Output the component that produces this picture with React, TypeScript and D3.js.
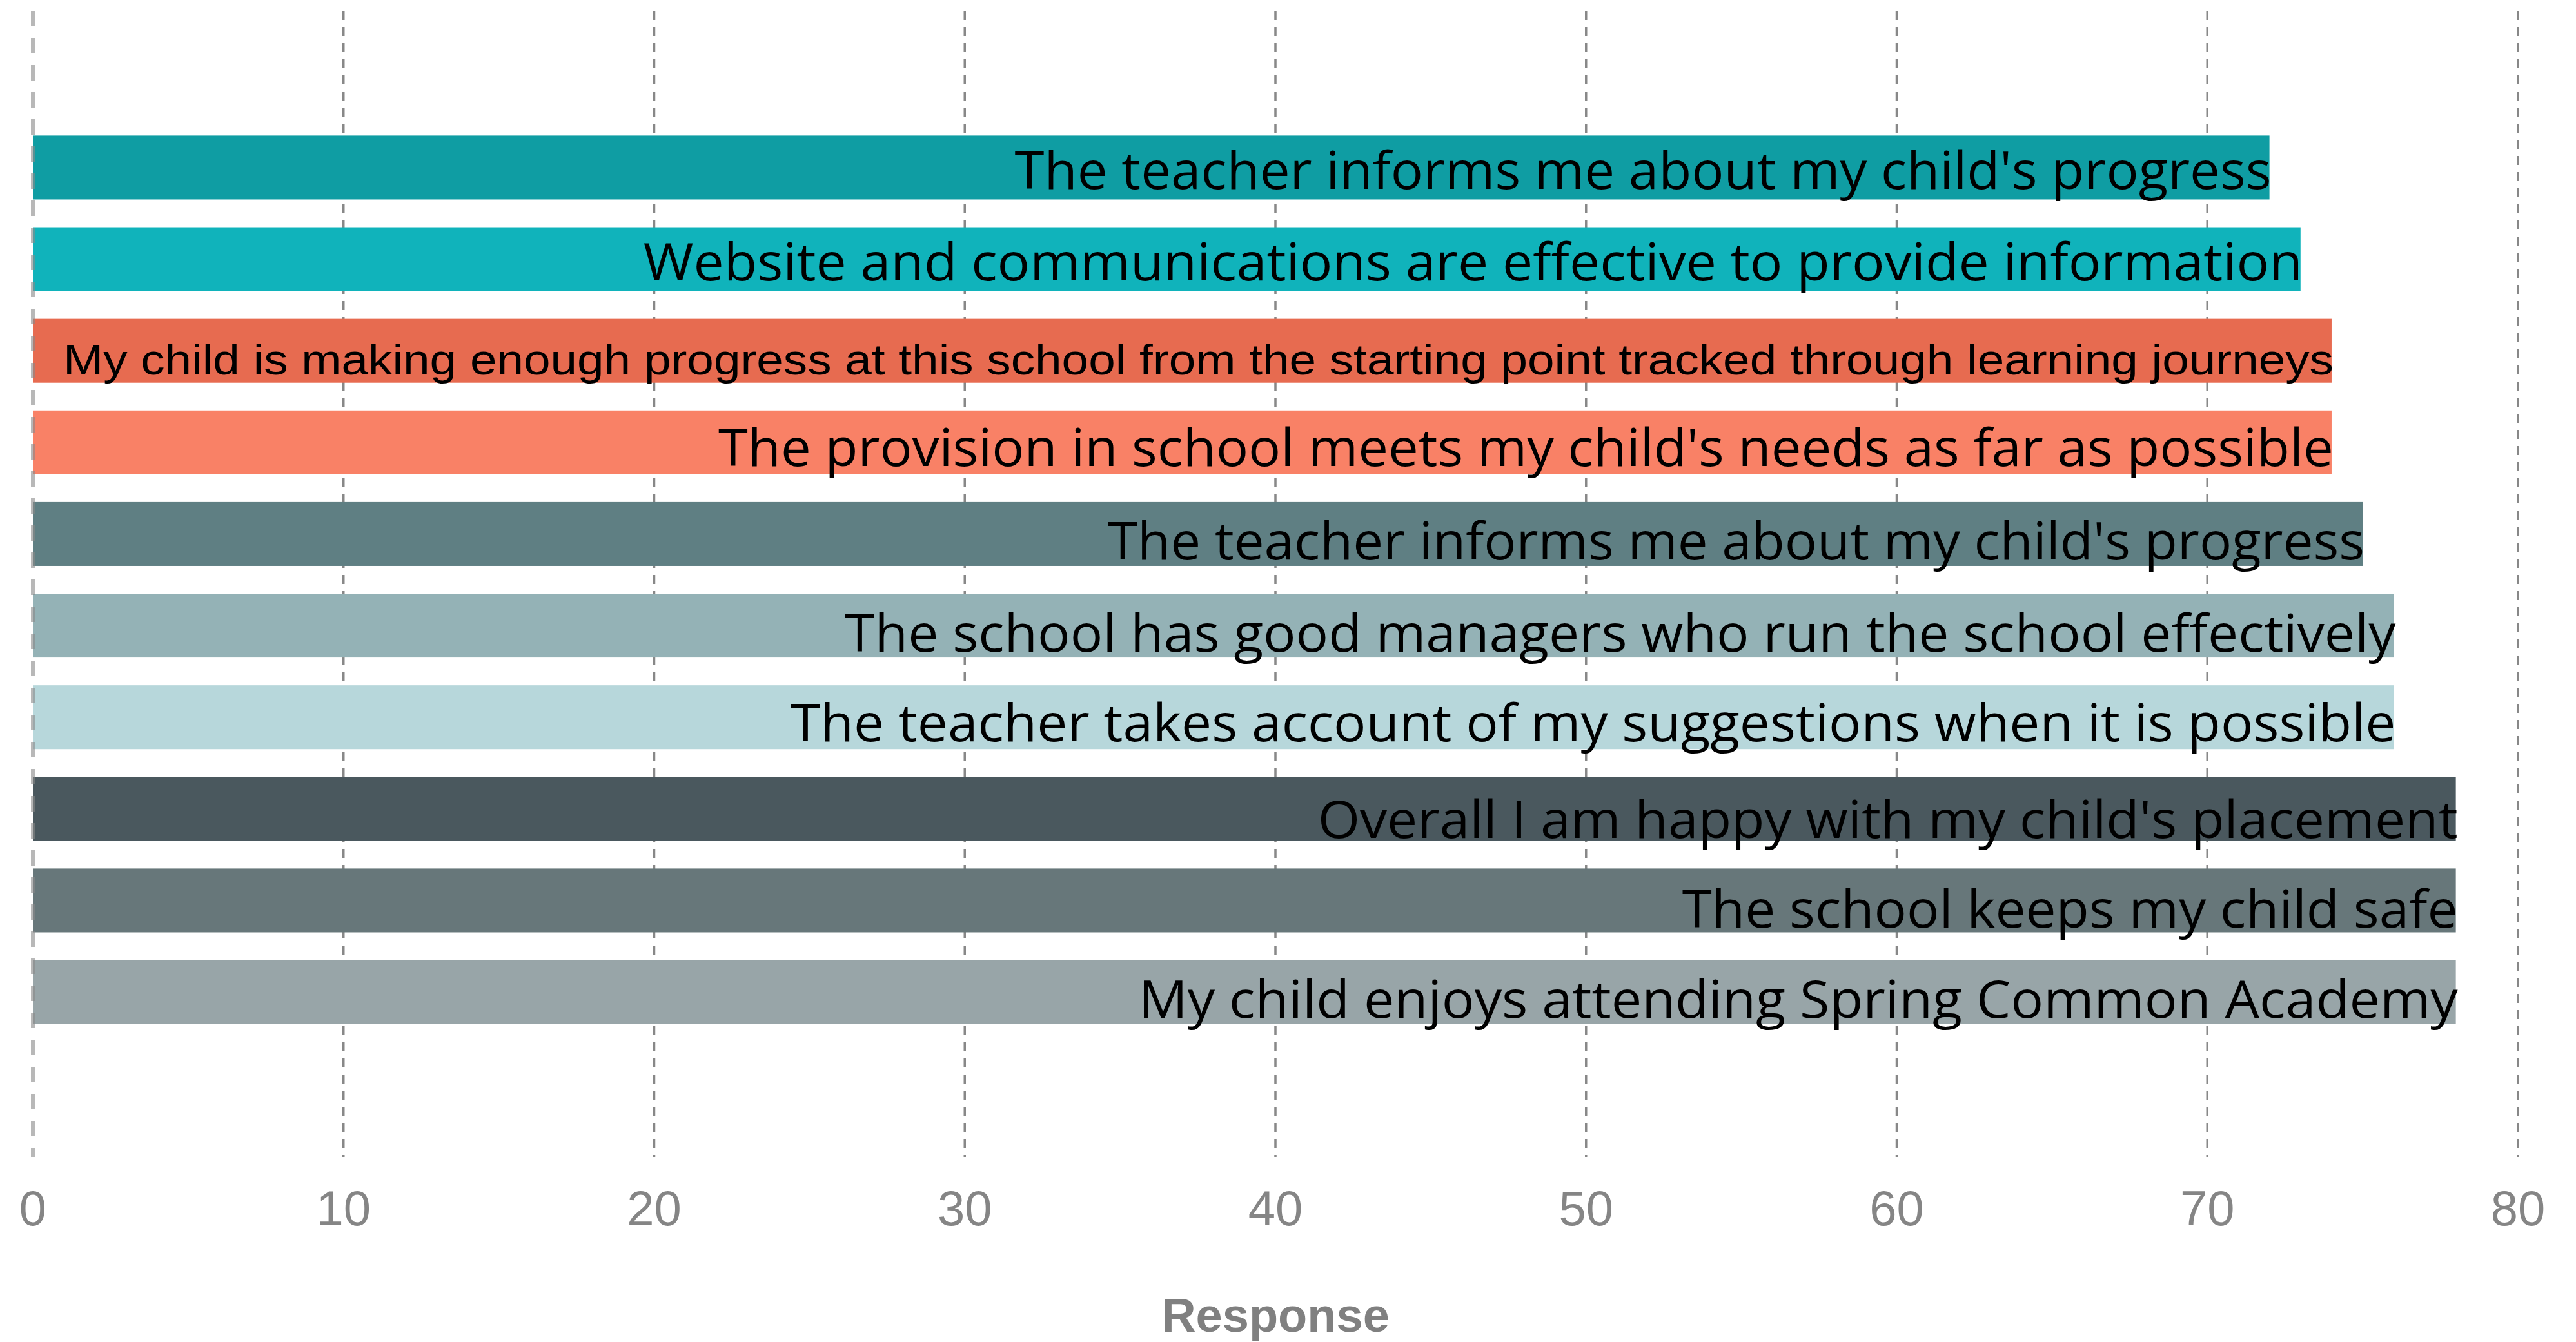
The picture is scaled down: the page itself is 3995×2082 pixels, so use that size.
import React from "react";
import * as d3 from "d3";

const W = 3995;
const H = 2082;

const categories = [
  "The teacher informs me about my child's progress",
  "Website and communications are effective to provide information",
  "My child is making enough progress at this school from the starting point tracked through learning journeys",
  "The provision in school meets my child's needs as far as possible",
  "The teacher informs me about my child's progress",
  "The school has good managers who run the school effectively",
  "The teacher takes account of my suggestions when it is possible",
  "Overall I am happy with my child's placement",
  "The school keeps my child safe",
  "My child enjoys attending Spring Common Academy",
];
const values = [72, 73, 74, 74, 75, 76, 76, 78, 78, 78];
const barColors = [
  "#0F9DA3", "#10B3BB", "#E76B50", "#F98166", "#5F7F83",
  "#94B2B6", "#B7D7DB", "#4A585E", "#67777A", "#98A5A8",
];
const xTicks = [0, 10, 20, 30, 40, 50, 60, 70, 80];
const axisTitle = "Response";

// label styling (text widths / baseline shifts / fonts)
const labelWidths = [1949, 2573, 3521, 2505, 1949, 2405, 2489, 1768, 1203, 2046];
const labelDy = [33, 33, 37, 37, 40, 40, 37, 45, 42, 40];
const labelFont = ["p", "p", "h", "p", "p", "p", "p", "p", "p", "p"];

export default function App() {
  const x = d3.scaleLinear().domain([0, 80]).range([51, 3905]);
  const y = d3
    .scaleBand<number>()
    .domain(d3.range(categories.length))
    .range([10, 1789])
    .paddingInner(0.303)
    .paddingOuter(1.41);
  const gridTop = 17;
  const gridBottom = 1795;

  return (
    <svg
      width={W}
      height={H}
      style={{ position: "absolute", left: 0, top: 0, background: "#fff" }}
    >
      <g>
        {xTicks
          .filter((t) => t !== 0)
          .map((t) => (
            <line
              key={t}
              x1={x(t)}
              x2={x(t)}
              y1={gridTop}
              y2={gridBottom}
              stroke="#888888"
              strokeWidth={3.5}
              strokeDasharray="14 11"
            />
          ))}
      </g>
      <g>
        {values.map((v, i) => (
          <rect
            key={i}
            x={x(0)}
            y={y(i)}
            width={x(v) - x(0)}
            height={y.bandwidth()}
            fill={barColors[i]}
          />
        ))}
      </g>
      <line
        x1={x(0)}
        x2={x(0)}
        y1={gridTop}
        y2={gridBottom}
        stroke="#888888"
        strokeOpacity={0.6}
        strokeWidth={6}
        strokeDasharray="24 18"
      />
      <g>
        {categories.map((c, i) => (
          <text
            key={i}
            x={x(values[i]) + 3}
            y={(y(i) as number) + y.bandwidth() / 2 + labelDy[i]}
            textAnchor="end"
            fontFamily={
              labelFont[i] === "h"
                ? "'Liberation Sans', Arial, sans-serif"
                : "'Open Sans', 'Noto Sans', sans-serif"
            }
            fontSize={labelFont[i] === "h" ? 66 : 80}
            textLength={labelWidths[i]}
            lengthAdjust="spacingAndGlyphs"
            fill="#000"
          >
            {c}
          </text>
        ))}
      </g>
      <g>
        {xTicks.map((t) => (
          <text
            key={t}
            x={x(t)}
            y={1901}
            textAnchor="middle"
            fontFamily="'Liberation Sans', Arial, sans-serif"
            fontSize={76}
            fill="#858585"
          >
            {t}
          </text>
        ))}
      </g>
      <text
        x={(x(0) + x(80)) / 2}
        y={2066}
        textAnchor="middle"
        fontFamily="'Liberation Sans', Arial, sans-serif"
        fontWeight="bold"
        fontSize={74}
        fill="#808080"
      >
        {axisTitle}
      </text>
    </svg>
  );
}
